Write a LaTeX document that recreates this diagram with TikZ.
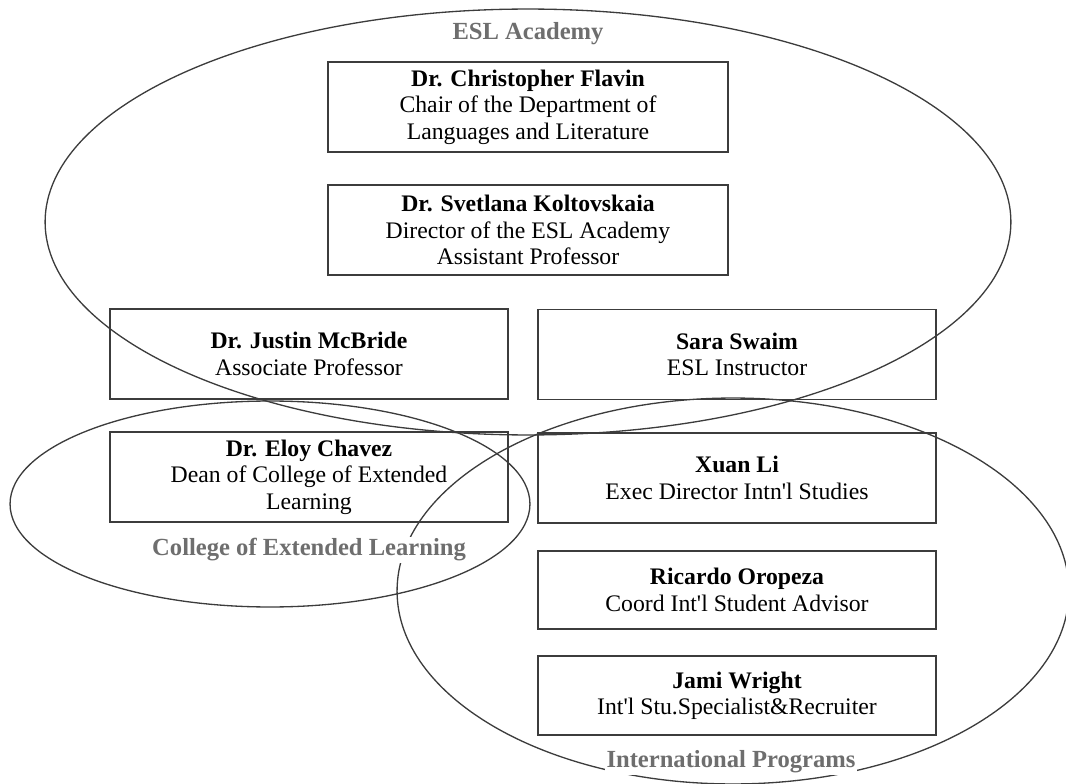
\documentclass[tikz,border=0pt]{standalone}
\usepackage{fontspec}
\setmainfont{Liberation Serif}
\usepackage{xcolor}
\usepackage{tikz}
\usetikzlibrary{positioning}
\definecolor{boxline}{HTML}{3C3C3C}
\definecolor{labelgray}{HTML}{6E6E6E}
\newcommand{\person}[2]{\textbf{#1}\\#2}
\newcommand{\ap}{\textquotesingle}
\tikzset{
	orgbox/.style={draw=boxline, line width=0.8pt, align=center, minimum width=7.96cm, minimum height=1.8cm, inner sep=2pt, font=\fontsize{13.5}{15}\selectfont},
	unit/.style={draw=boxline, line width=0.75pt},
	unitlabel/.style={fill=white, inner sep=1pt, text=labelgray, font=\fontsize{14}{16}\selectfont\bfseries}
}

\begin{document}
\begin{tikzpicture}[x=0.02cm, y=-0.02cm]
	\useasboundingbox (0,0) rectangle (1066,784);

	% staff boxes
	\node[orgbox, minimum width=8cm] (flavin) at (528,107) {\person{Dr. Christopher Flavin}{Chair of the Department of\\Languages and Literature}};
	\node[orgbox, minimum width=8cm] (koltovskaia) at (528,230) {\person{Dr. Svetlana Koltovskaia}{Director of the ESL Academy\\Assistant Professor}};
	\node[orgbox] (mcbride) at (309,354) {\person{Dr. Justin McBride}{Associate Professor}};
	\node[orgbox] (swaim) at (737,354.5) {\person{Sara Swaim}{ESL Instructor}};
	\node[orgbox] (chavez) at (309,477) {\person{Dr. Eloy Chavez}{Dean of College of Extended\\Learning}};
	\node[orgbox] (xuanli) at (737,478) {\person{Xuan Li}{Exec Director Intn\ap l Studies}};
	\node[orgbox, minimum height=1.56cm] (oropeza) at (737,590) {\person{Ricardo Oropeza}{Coord Int\ap l Student Advisor}};
	\node[orgbox, minimum height=1.58cm] (wright) at (737,695.5) {\person{Jami Wright}{Int\ap l Stu.Specialist\&Recruiter}};

	% the three units
	\draw[unit] (528,222) ellipse [x radius=9.66cm, y radius=4.26cm];
	\draw[unit] (270,504) ellipse [x radius=5.2cm, y radius=2.06cm];
	\draw[unit] (733,591) ellipse [x radius=6.72cm, y radius=3.86cm];

	\node[unitlabel] (esllabel) at (528,34) {ESL Academy};
	\node[unitlabel] (cellabel) at (309,550) {College of Extended Learning};
	\node[unitlabel] (intllabel) at (731,762) {International Programs};

\end{tikzpicture}
\end{document}
